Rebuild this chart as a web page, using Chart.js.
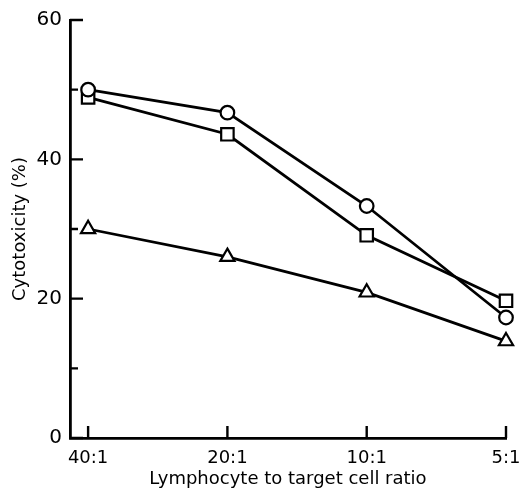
<!DOCTYPE html>
<html>
<head>
<meta charset="utf-8">
<script src="https://cdn.jsdelivr.net/npm/chart.js@4.4.0/dist/chart.umd.min.js"></script>
<style>
  html, body { margin: 0; padding: 0; background: #fff; }
  #wrap { width: 519px; height: 489px; }
</style>
</head>
<body>
<div id="wrap"><canvas id="cyto"></canvas></div>
<script>
// categories along the x axis (effector : target ratio)
const ratios = ['40:1', '20:1', '10:1', '5:1'];

// cytotoxicity (%)
const circleSeries = [50, 46.7, 33.3, 17.3];
const squareSeries = [48.9, 43.6, 29.1, 19.7];
const triangleSeries = [30, 26, 20.9, 13.9];

// y ticks: labelled majors, short minors in between
const yMajor = [0, 20, 40, 60];
const yMinor = [10, 30, 50];

const font = "'DejaVu Sans', sans-serif";

function toPoints(values) {
    return values.map((v, i) => ({ x: i, y: v }));
}

function series(values, style, radius) {
    return {
        data: toPoints(values),
        borderColor: '#000',
        borderWidth: 2.8,
        pointStyle: style,
        pointRadius: radius,
        pointHoverRadius: radius,
        pointBackgroundColor: '#fff',
        pointBorderColor: '#000',
        pointBorderWidth: 2.2,
        tension: 0,
        clip: false
    };
}

// inward tick marks, like the printed figure
const inwardTicks = {
    id: 'inwardTicks',
    afterDatasetsDraw(chart) {
        const c = chart.ctx;
        const x = chart.scales.x, y = chart.scales.y;
        c.save();
        c.strokeStyle = '#000';
        c.lineWidth = 2.4;
        c.beginPath();
        yMajor.forEach(v => {
            const py = y.getPixelForValue(v);
            c.moveTo(x.left, py);
            c.lineTo(x.left + 13, py);
        });
        yMinor.forEach(v => {
            const py = y.getPixelForValue(v);
            c.moveTo(x.left, py);
            c.lineTo(x.left + 8, py);
        });
        ratios.forEach((r, i) => {
            const px = x.getPixelForValue(i);
            c.moveTo(px, y.bottom);
            c.lineTo(px, y.bottom - 12);
        });
        c.stroke();
        c.restore();
    }
};

new Chart(document.getElementById('cyto'), {
    type: 'line',
    data: {
        datasets: [
            series(circleSeries, 'circle', 6.8),
            series(squareSeries, 'rect', 8.8),
            series(triangleSeries, 'triangle', 8.2)
        ]
    },
    options: {
        responsive: true,
        maintainAspectRatio: false,
        animation: false,
        layout: { padding: { top: 18, right: 13, left: 0, bottom: 0 } },
        plugins: {
            legend: { display: false },
            tooltip: { enabled: false }
        },
        scales: {
            x: {
                type: 'linear',
                min: -0.13,
                max: 3,
                afterBuildTicks: s => { s.ticks = ratios.map((r, i) => ({ value: i })); },
                afterFit: s => { s.height = 51; s.paddingLeft = 0; s.paddingRight = 0; },
                grid: { display: false, drawTicks: false },
                border: { display: true, color: '#000', width: 2.8 },
                ticks: {
                    color: '#000',
                    padding: 10,
                    font: { family: font, size: 18 },
                    maxRotation: 0,
                    callback: v => ratios[v]
                },
                title: {
                    display: true,
                    text: 'Lymphocyte to target cell ratio',
                    color: '#000',
                    padding: { top: 4, bottom: -1 },
                    font: { family: font, size: 18 }
                }
            },
            y: {
                min: 0,
                max: 60,
                afterBuildTicks: s => { s.ticks = yMajor.map(v => ({ value: v })); },
                afterFit: s => { s.width = 70; },
                grid: { display: false, drawTicks: false },
                border: { display: true, color: '#000', width: 2.8 },
                ticks: {
                    color: '#000',
                    padding: 8,
                    font: { family: font, size: 20 }
                },
                title: {
                    display: true,
                    text: 'Cytotoxicity (%)',
                    color: '#000',
                    padding: { top: 10, bottom: 0 },
                    font: { family: font, size: 18 }
                }
            }
        }
    },
    plugins: [inwardTicks]
});
</script>
</body>
</html>
